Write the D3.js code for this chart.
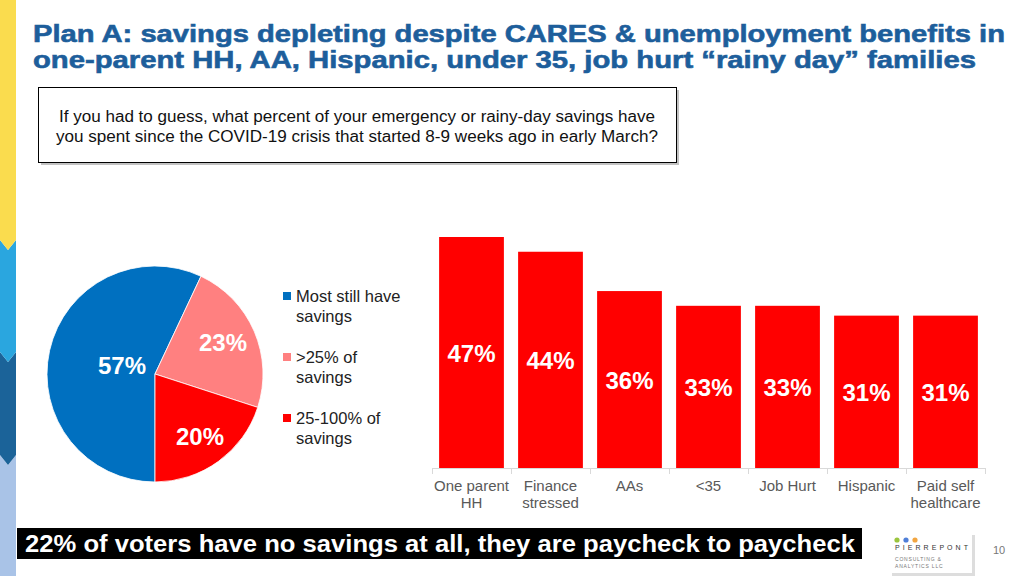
<!DOCTYPE html>
<html><head><meta charset="utf-8">
<script src="https://cdn.jsdelivr.net/npm/d3@7"></script>
<style>body{margin:0;background:#fff;}svg{display:block;font-family:"Liberation Sans",Arial,sans-serif;}</style>
</head><body>
<svg id="c" width="1024" height="576"></svg>
<script>
const titleLines = ["Plan A: savings depleting despite CARES & unemployment benefits in",
  "one-parent HH, AA, Hispanic, under 35, job hurt \u201crainy day\u201d families"];
const questionLines = ["If you had to guess, what percent of your emergency or rainy-day savings have",
  "you spent since the COVID-19 crisis that started 8-9 weeks ago in early March?"];
const pieCategories = ["Most still have savings", ">25% of savings", "25-100% of savings"];
const pieLegendLines = [["Most still have","savings"],[">25% of","savings"],["25-100% of","savings"]];
const pieValues = [57, 23, 20];
const pieColors = ["#0070C0", "#FF8080", "#FF0000"];
const barCategories = ["One parent HH", "Finance stressed", "AAs", "<35", "Job Hurt", "Hispanic", "Paid self healthcare"];
const barLabelLines = [["One parent","HH"],["Finance","stressed"],["AAs"],["<35"],["Job Hurt"],["Hispanic"],["Paid self","healthcare"]];
const barValues = [47, 44, 36, 33, 33, 31, 31];
const footerText = "22% of voters have no savings at all, they are paycheck to paycheck";

const svg = d3.select("#c");

// left stripe
const stripe = [
  {c:"#A9C3E7", y0:455, y1:576},
  {c:"#1B6399", y0:352, y1:465},
  {c:"#2AA6DF", y0:240, y1:362},
  {c:"#FADC4E", y0:0, y1:250}
];
stripe.forEach(s=>{
  const w=16, dip=10;
  const p = s.y0===0 ? `M0,0 L${w},0 L${w},${s.y1-dip} L${w/2},${s.y1} L0,${s.y1-dip} Z`
    : s.y1===576 ? `M0,${s.y0} L${w/2},${s.y0+dip} L${w},${s.y0} L${w},576 L0,576 Z`
    : `M0,${s.y0} L${w/2},${s.y0+dip} L${w},${s.y0} L${w},${s.y1-dip} L${w/2},${s.y1} L0,${s.y1-dip} Z`;
  svg.append("path").attr("d",p).attr("fill",s.c);
});

// title
svg.selectAll("text.title").data(titleLines).join("text")
  .attr("x",33).attr("y",(d,i)=>42+i*26)
  .attr("font-size",24).attr("font-weight","bold").attr("fill","#1D5E9B")
  .attr("stroke","#1D5E9B").attr("stroke-width",0.6)
  .attr("textLength",(d,i)=>i===0?972:943).attr("lengthAdjust","spacingAndGlyphs")
  .text(d=>d);

// question box
svg.append("rect").attr("x",41).attr("y",90).attr("width",638).attr("height",75).attr("fill","#9a9a9a").attr("opacity",0.6);
svg.append("rect").attr("x",38.5).attr("y",87.5).attr("width",638).attr("height",75).attr("fill","#fff").attr("stroke","#000").attr("stroke-width",1);
svg.selectAll("text.q").data(questionLines).join("text")
  .attr("x",357).attr("y",(d,i)=>122+i*20).attr("text-anchor","middle")
  .attr("font-size",16).attr("fill","#111")
  .attr("textLength",(d,i)=>i===0?596:602).attr("lengthAdjust","spacingAndGlyphs")
  .text(d=>d);

// pie
const cx=155, cy=374, r=108;
const pie = d3.pie().sort(null).startAngle(Math.PI).endAngle(3*Math.PI);
const arcs = pie(pieValues);
const arc = d3.arc().innerRadius(0).outerRadius(r);
const pg = svg.append("g").attr("transform",`translate(${cx},${cy})`);
pg.selectAll("path").data(arcs).join("path").attr("d",arc)
  .attr("fill",(d,i)=>pieColors[i]).attr("stroke","#fff").attr("stroke-width",0.8);
const pieLabelPos = [[-33,-9],[68,-32],[45,62]];
pg.selectAll("text").data(arcs).join("text")
  .attr("x",(d,i)=>pieLabelPos[i][0]).attr("y",(d,i)=>pieLabelPos[i][1]+9)
  .attr("text-anchor","middle").attr("font-size",24).attr("font-weight","bold").attr("fill","#fff")
  .text(d=>d.data+"%");

// legend
const lg = svg.append("g");
pieCategories.forEach((c,i)=>{
  const y0 = 296 + i*61;
  lg.append("rect").attr("x",283).attr("y",y0-4).attr("width",8).attr("height",8).attr("fill",pieColors[i]);
  pieLegendLines[i].forEach((t,j)=>{
    lg.append("text").attr("x",296).attr("y",y0+6+j*20).attr("font-size",16.5).attr("fill","#222").text(t);
  });
});

// bars
const x = d3.scaleBand().domain(barCategories).range([432,985]).paddingInner(0.18).paddingOuter(0.09);
const y = d3.scaleLinear().domain([0,47]).range([468,237]);
const bg = svg.append("g");
bg.selectAll("rect").data(barValues).join("rect")
  .attr("x",(d,i)=>x(barCategories[i])).attr("y",d=>y(d))
  .attr("width",x.bandwidth()).attr("height",d=>y(0)-y(d)).attr("fill","#FF0000");
bg.selectAll("text.v").data(barValues).join("text").attr("class","v")
  .attr("x",(d,i)=>x(barCategories[i])+x.bandwidth()/2).attr("y",d=>(y(d)+y(0))/2+9)
  .attr("text-anchor","middle").attr("font-size",24).attr("font-weight","bold").attr("fill","#fff")
  .text(d=>d+"%");
// axis
bg.append("line").attr("x1",432).attr("x2",985).attr("y1",468.5).attr("y2",468.5).attr("stroke","#d9d9d9");
d3.range(8).forEach(k=>{
  const xx = Math.round(432 + k*x.step())+0.5;
  bg.append("line").attr("x1",xx).attr("x2",xx).attr("y1",468).attr("y2",474).attr("stroke","#d9d9d9");
});
barCategories.forEach((c,i)=>{
  barLabelLines[i].forEach((t,j)=>{
    bg.append("text").attr("x",x(c)+x.bandwidth()/2).attr("y",491+j*17)
      .attr("text-anchor","middle").attr("font-size",15).attr("fill","#595959").text(t);
  });
});

// footer banner
svg.append("rect").attr("x",17).attr("y",528).attr("width",845).attr("height",31).attr("fill","#000");
svg.append("text").attr("x",25).attr("y",552).attr("font-size",23).attr("font-weight","bold").attr("fill","#fff")
  .attr("textLength",830).attr("lengthAdjust","spacingAndGlyphs").text(footerText);

// logo
svg.append("rect").attr("x",892).attr("y",535).attr("width",83).attr("height",41).attr("fill","#bbb").attr("opacity",0.5);
svg.append("rect").attr("x",890).attr("y",532).attr("width",82).attr("height",41).attr("fill","#fff");
[["#9BC53D",897],["#4F7FD8",906],["#F2A541",915]].forEach(d=>{
  svg.append("circle").attr("cx",d[1]).attr("cy",540).attr("r",2.6).attr("fill",d[0]);
});
svg.append("text").attr("x",895).attr("y",550).attr("font-size",7).attr("fill","#333")
  .attr("textLength",73).attr("lengthAdjust","spacing").text("PIERREPONT");
svg.append("text").attr("x",895).attr("y",561).attr("font-size",5).attr("fill","#777")
  .attr("letter-spacing",0.8).text("CONSULTING &");
svg.append("text").attr("x",895).attr("y",568).attr("font-size",5).attr("fill","#777")
  .attr("letter-spacing",0.8).text("ANALYTICS LLC");
svg.append("text").attr("x",993).attr("y",554).attr("font-size",11).attr("fill","#777").text("10");
</script>
</body></html>
